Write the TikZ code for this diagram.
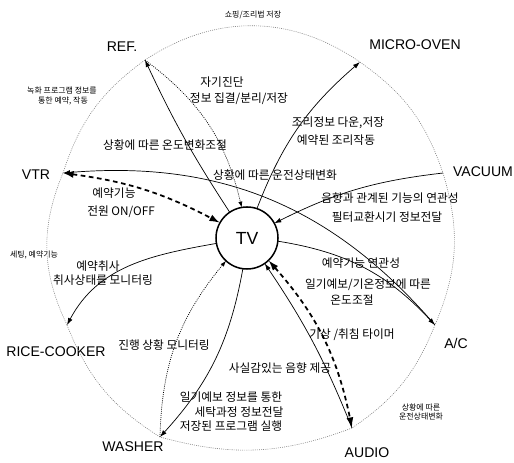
\documentclass[tikz,border=0pt]{standalone}
\usepackage{fontspec}
\setmainfont{Liberation Sans}
\newfontfamily\kr{Noto Sans CJK KR}
\usepackage{tkz-graph}
\usetikzlibrary{arrows.meta}

\begin{document}
\begin{tikzpicture}[scale = 10]
	\tikzstyle{VertexStyle} = []
	\tikzstyle{EdgeStyle} = []
	\tikzstyle{tvStyle} = [shape = circle, draw, line width = 1.3pt, minimum size = 1.86cm, inner sep = 0pt, font = \fontsize{15}{18}\selectfont]
	\tikzstyle{pointStyle} = [shape = coordinate]
	\tikzstyle{deviceStyle} = [inner sep = 0pt, font = \fontsize{12}{14}\selectfont]
	\tikzstyle{noteStyle} = [inner sep = 0pt, font = \kr\fontsize{10}{12}\selectfont]
	\tikzstyle{smallStyle} = [inner sep = 0pt, font = \kr\fontsize{6.8}{8}\selectfont]
	\tikzstyle{ringStyle} = [densely dotted, gray, line width = 0.5pt]
	\tikzstyle{linkStyle} = [-{Latex[length = 6pt, width = 4pt]}, line width = 0.6pt]
	\tikzstyle{dotStyle} = [-{Latex[length = 5pt, width = 3.5pt]}, densely dotted, line width = 0.6pt]
	\tikzstyle{dashStyle} = [{Latex[length = 9pt, width = 6pt]}-{Latex[length = 9pt, width = 6pt]}, line width = 1.5pt, dash pattern = on 4pt off 3pt]
	\useasboundingbox (0,0) rectangle (1.542,1.389);
	\Vertex[style = tvStyle, x = 0.741, y = 0.675, L = {TV}]{tv}
	\Vertex[style = pointStyle, x = 0.435, y = 1.209, NoLabel]{pREF}
	\Vertex[style = pointStyle, x = 1.080, y = 1.203, NoLabel]{pMIC}
	\Vertex[style = pointStyle, x = 1.329, y = 0.870, NoLabel]{pVAC}
	\Vertex[style = pointStyle, x = 1.305, y = 0.414, NoLabel]{pAC}
	\Vertex[style = pointStyle, x = 1.056, y = 0.105, NoLabel]{pAUD}
	\Vertex[style = pointStyle, x = 0.480, y = 0.078, NoLabel]{pWAS}
	\Vertex[style = pointStyle, x = 0.201, y = 0.414, NoLabel]{pRIC}
	\Vertex[style = pointStyle, x = 0.189, y = 0.870, NoLabel]{pVTR}
	\Vertex[style = deviceStyle, x = 0.366, y = 1.248, L = {REF.}]{ref}
	\Vertex[style = deviceStyle, x = 1.245, y = 1.254, L = {MICRO-OVEN}]{mic}
	\Vertex[style = deviceStyle, x = 1.449, y = 0.873, L = {VACUUM}]{vac}
	\Vertex[style = deviceStyle, x = 1.368, y = 0.360, L = {A/C}]{ac}
	\Vertex[style = deviceStyle, x = 1.101, y = 0.030, L = {AUDIO}]{aud}
	\Vertex[style = deviceStyle, x = 0.399, y = 0.048, L = {WASHER}]{was}
	\Vertex[style = deviceStyle, x = 0.168, y = 0.333, L = {RICE-COOKER}]{ric}
	\Vertex[style = deviceStyle, x = 0.108, y = 0.864, L = {VTR}]{vtr}
	\Vertex[style = noteStyle, x = 0.666, y = 1.143, L = {자기진단}]{n1}
	\Vertex[style = noteStyle, x = 0.717, y = 1.092, L = {정보 집결/분리/저장}]{n2}
	\Vertex[style = noteStyle, x = 1.014, y = 1.020, L = {조리정보 다운,저장}]{n3}
	\Vertex[style = noteStyle, x = 1.008, y = 0.969, L = {예약된 조리작동}]{n4}
	\Vertex[style = noteStyle, x = 0.495, y = 0.954, L = {상황에 따른 온도변화조절}]{n5}
	\Vertex[style = noteStyle, x = 0.825, y = 0.864, L = {상황에 따른 운전상태변화}]{n6}
	\Vertex[style = noteStyle, x = 1.170, y = 0.795, L = {음향과 관계된 기능의 연관성}]{n7}
	\Vertex[style = noteStyle, x = 1.161, y = 0.738, L = {필터교환시기 정보전달}]{n8}
	\Vertex[style = noteStyle, x = 0.342, y = 0.810, L = {예약기능}]{n9}
	\Vertex[style = noteStyle, x = 0.363, y = 0.753, L = {전원 ON/OFF}]{n10}
	\Vertex[style = noteStyle, x = 0.294, y = 0.591, L = {예약취사}]{n11}
	\Vertex[style = noteStyle, x = 0.309, y = 0.549, L = {취사상태를 모니터링}]{n12}
	\Vertex[style = noteStyle, x = 1.083, y = 0.600, L = {예약기능 연관성}]{n13}
	\Vertex[style = noteStyle, x = 1.104, y = 0.534, L = {일기예보/기온정보에 따른}]{n14}
	\Vertex[style = noteStyle, x = 1.056, y = 0.489, L = {온도조절}]{n15}
	\Vertex[style = noteStyle, x = 0.492, y = 0.354, L = {진행 상황 모니터링}]{n16}
	\Vertex[style = noteStyle, x = 1.056, y = 0.384, L = {기상 /취침 타이머}]{n17}
	\Vertex[style = noteStyle, x = 0.840, y = 0.285, L = {사실감있는 음향 제공}]{n18}
	\Vertex[style = noteStyle, x = 0.693, y = 0.198, L = {일기예보 정보를 통한}]{n19}
	\Vertex[style = noteStyle, x = 0.717, y = 0.153, L = {세탁과정 정보전달}]{n20}
	\Vertex[style = noteStyle, x = 0.693, y = 0.111, L = {저장된 프로그램 실행}]{n21}
	\Vertex[style = smallStyle, x = 0.759, y = 1.344, L = {쇼핑/조리법 저장}]{s1}
	\Vertex[style = smallStyle, x = 0.186, y = 1.116, L = {녹화 프로그램 정보를}]{s2}
	\Vertex[style = smallStyle, x = 0.189, y = 1.086, L = {통한 예약, 작동}]{s3}
	\Vertex[style = smallStyle, x = 0.102, y = 0.624, L = {세팅, 예약기능}]{s4}
	\Vertex[style = smallStyle, x = 1.263, y = 0.168, L = {상황에 따른}]{s5}
	\Vertex[style = smallStyle, x = 1.263, y = 0.138, L = {운전상태변화}]{s6}
	\Edge[style = {ringStyle, bend left = 34}](pREF)(pMIC)
	\Edge[style = {ringStyle, bend left = 18}](pMIC)(pVAC)
	\Edge[style = {ringStyle, bend left = 20}](pVAC)(pAC)
	\Edge[style = {ringStyle, bend left = 17}](pAC)(pAUD)
	\Edge[style = {ringStyle, bend left = 18}](pAUD)(pWAS)
	\Edge[style = {ringStyle, bend left = 18}](pWAS)(pRIC)
	\Edge[style = {ringStyle, bend left = 24}](pRIC)(pVTR)
	\Edge[style = {ringStyle, bend left = 18}](pVTR)(pREF)
	\Edge[style = {linkStyle, bend left = 4}](tv)(pREF)
	\Edge[style = {dotStyle, bend left = 20}](pREF)(tv)
	\Edge[style = {linkStyle, bend left = 14}](tv)(pMIC)
	\Edge[style = {linkStyle, bend right = 10}](pVAC)(tv)
	\Edge[style = {dashStyle, bend left = 10}](pVTR)(tv)
	\Edge[style = {linkStyle, bend right = 27}](pAC)(pVTR)
	\Edge[style = {linkStyle, out = 190, in = 62}](tv)(pRIC)
	\Edge[style = {dotStyle, bend left = 19}](pWAS)(tv)
	\Edge[style = {linkStyle, bend left = 16}](tv)(pWAS)
	\Edge[style = {linkStyle, bend right = 6}](pAUD)(tv)
	\Edge[style = {dashStyle, bend left = 15}](tv)(pAUD)
	\Edge[style = {linkStyle, bend left = 19}](tv)(pAC)
\end{tikzpicture}
\end{document}
